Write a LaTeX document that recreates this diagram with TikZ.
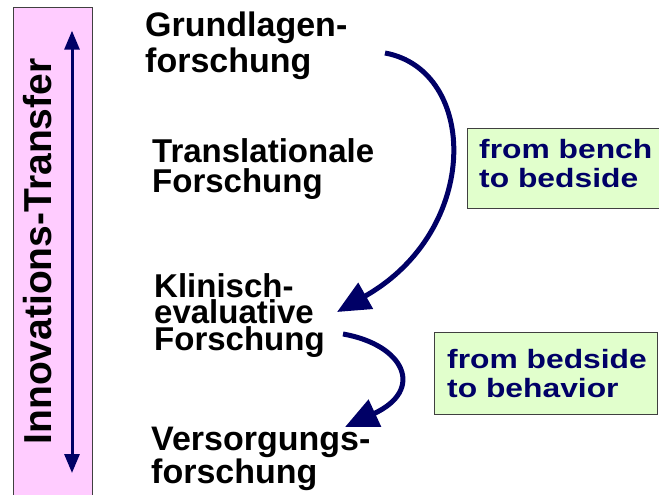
\documentclass[tikz,border=0pt]{standalone}
\usepackage{fontspec}
\setmainfont{Liberation Sans}
\newfontfamily\widesans[FakeStretch=1.2]{Liberation Sans}
\usetikzlibrary{arrows.meta}
\definecolor{navy}{RGB}{0,0,102}
\definecolor{barpink}{RGB}{255,204,255}
\definecolor{notegreen}{RGB}{225,255,204}
\definecolor{edgegray}{RGB}{64,64,64}

\begin{document}
\begin{tikzpicture}[x=1pt,y=-1pt,
  % multi-line nodes sit on the baseline of their last line
  stage/.style 2 args={anchor=base west, inner sep=0pt, align=left, text=black,
    font=\bfseries\fontsize{#1}{#2}\selectfont},
  notebox/.style={draw=edgegray, line width=1pt, fill=notegreen,
    anchor=north west, inner sep=0pt},
  notetext/.style={anchor=base west, inner sep=0pt, align=left, text=navy,
    font=\widesans\bfseries\fontsize{26.5}{29}\selectfont},
  flow/.style={draw=navy, line width=5pt, -{Triangle[length=33pt,width=29pt]}},
  span/.style={draw=navy, line width=3pt,
    {Triangle[length=19pt,width=15pt]}-{Triangle[length=19pt,width=15pt]}}
]
\useasboundingbox (0,0) rectangle (659,495);
\clip (0,0) rectangle (659,495);

% pink side bar with the double arrow and its rotated title
\node[draw=edgegray, line width=1pt, fill=barpink, anchor=north west,
  inner sep=0pt, minimum width=79.6, minimum height=500] (bar) at (12.7,7.3) {};
\coordinate (tup) at (72,30.7);
\coordinate (tdown) at (72,473);
\draw[span] (tup) -- (tdown);
\node[rotate=90, inner sep=0pt, font=\bfseries\fontsize{39}{39}\selectfont]
  (transfer) at (37.2,251.5) {Innovations-Transfer};

% research stages
\node[stage={34}{36}] (grund) at (145,73) {Grundlagen-\\forschung};
\node[stage={33}{30}] (transl) at (152,192) {Translationale\\Forschung};
\node[stage={33}{26.5}] (klin) at (154,350) {Klinisch-\\evaluative\\Forschung};
\node[stage={34}{28}] (vers) at (151,483) {Versorgungs-\\forschung};

% notes
\node[notebox, minimum width=220, minimum height=80] (bench) at (467,128) {};
\node[notetext] (benchtxt) at (479,187) {from bench\\to bedside};
\node[notebox, minimum width=223, minimum height=82] (behav) at (434,332) {};
\node[notetext] (behavtxt) at (447,397) {from bedside\\to behavior};

% curved transfer arrows
\coordinate (c1s) at (385,53);
\coordinate (c1e) at (337,312);
\draw[flow] (c1s) .. controls (478,70) and (482,230) .. (c1e);
\coordinate (c2s) at (343,334);
\coordinate (c2e) at (345,427);
\draw[flow] (c2s) .. controls (405,345) and (425,390) .. (c2e);
\end{tikzpicture}
\end{document}
